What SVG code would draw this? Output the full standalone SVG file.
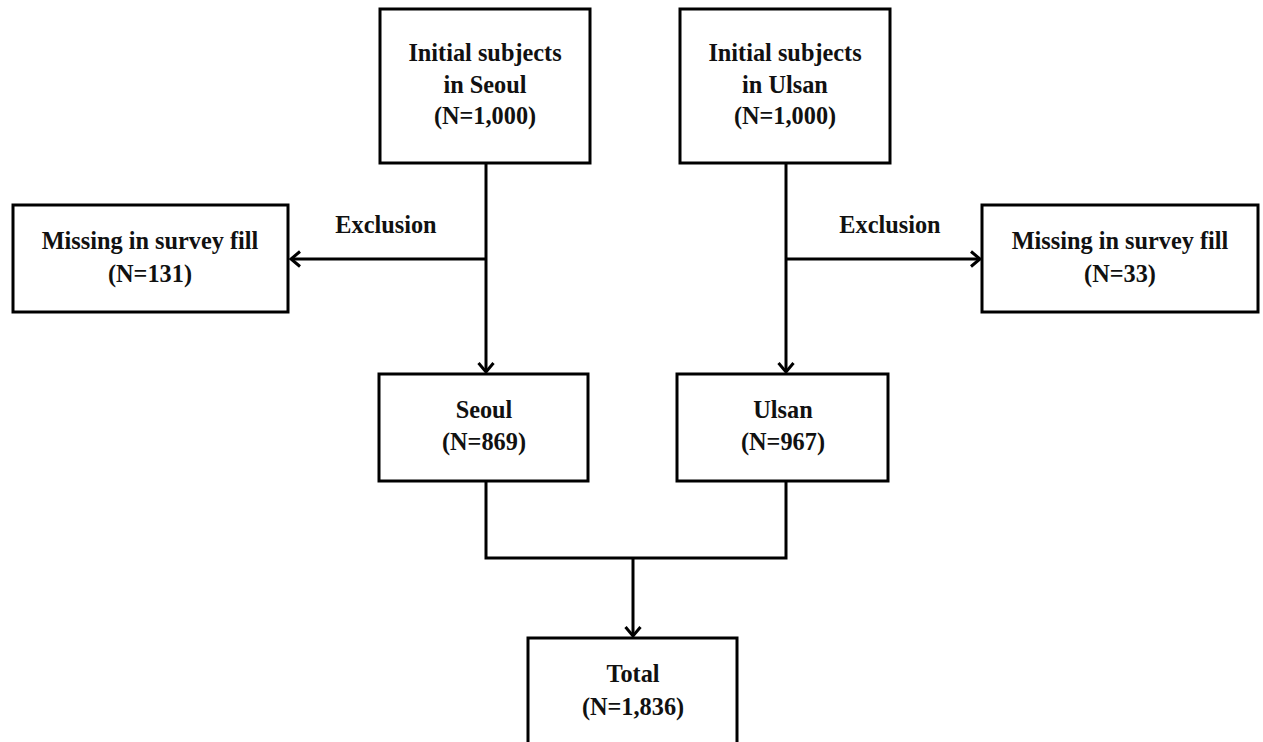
<svg xmlns="http://www.w3.org/2000/svg" width="1263" height="742" viewBox="0 0 1263 742">
<style>
.box{fill:#fff;stroke:#000;stroke-width:3}
.t{font-family:"Liberation Serif","Times New Roman",serif;font-weight:bold;font-size:24.3px;text-anchor:middle;fill:#111}
.c{fill:none;stroke:#000;stroke-width:3}
</style>
<defs>
<marker id="arr" markerUnits="userSpaceOnUse" markerWidth="20" markerHeight="20" viewBox="-12 -10 14 20" refX="0" refY="0" orient="auto">
<path d="M-9,-7.5 L0,0 L-9,7.5" fill="none" stroke="#000" stroke-width="3"/>
</marker>
</defs>
<rect width="1263" height="742" fill="#fff"/>
<g id="connectors">
<path class="c" d="M486,163 V372" marker-end="url(#arr)"/>
<path class="c" d="M486,259 H291" marker-end="url(#arr)"/>
<path class="c" d="M786,163 V372" marker-end="url(#arr)"/>
<path class="c" d="M786,259 H980" marker-end="url(#arr)"/>
<path class="c" d="M486,481 V558 H786 V481"/>
<path class="c" d="M633,558 V636" marker-end="url(#arr)"/>
<text class="t" x="386" y="233">Exclusion</text>
<text class="t" x="890" y="233">Exclusion</text>
</g>
<g id="n-seoul-initial">
<rect class="box" x="380" y="9" width="210" height="154"/>
<text class="t" x="485" y="61">Initial subjects</text>
<text class="t" x="485" y="93">in Seoul</text>
<text class="t" x="485" y="124">(N=1,000)</text>
</g>
<g id="n-ulsan-initial">
<rect class="box" x="680" y="9" width="210" height="154"/>
<text class="t" x="785" y="61">Initial subjects</text>
<text class="t" x="785" y="93">in Ulsan</text>
<text class="t" x="785" y="124">(N=1,000)</text>
</g>
<g id="n-missing-seoul">
<rect class="box" x="13" y="205" width="275" height="107"/>
<text class="t" x="150" y="249">Missing in survey fill</text>
<text class="t" x="150" y="282">(N=131)</text>
</g>
<g id="n-missing-ulsan">
<rect class="box" x="982" y="205" width="276" height="107"/>
<text class="t" x="1120" y="249">Missing in survey fill</text>
<text class="t" x="1120" y="282">(N=33)</text>
</g>
<g id="n-seoul">
<rect class="box" x="379" y="374" width="209" height="107"/>
<text class="t" x="484" y="418">Seoul</text>
<text class="t" x="484" y="450">(N=869)</text>
</g>
<g id="n-ulsan">
<rect class="box" x="677" y="374" width="211" height="107"/>
<text class="t" x="783" y="418">Ulsan</text>
<text class="t" x="783" y="450">(N=967)</text>
</g>
<g id="n-total">
<rect class="box" x="528" y="638" width="209" height="130"/>
<text class="t" x="633" y="682">Total</text>
<text class="t" x="633" y="715">(N=1,836)</text>
</g>
</svg>
